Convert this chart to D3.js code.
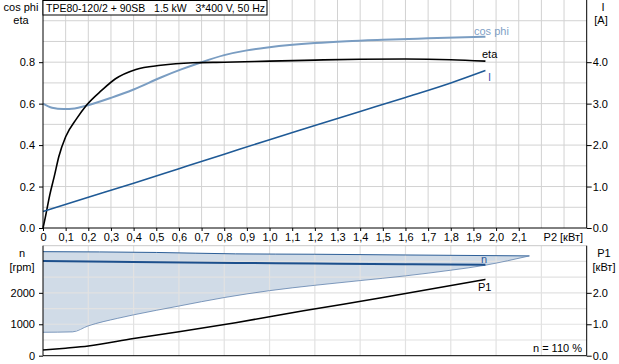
<!DOCTYPE html>
<html><head><meta charset="utf-8">
<script src="https://cdn.jsdelivr.net/npm/d3@7"></script>
<style>
html,body{margin:0;padding:0;background:#fff;}
text{font-family:"Liberation Sans",Arial,sans-serif;font-size:11px;white-space:pre;}
</style></head>
<body><svg id="c" width="619" height="364"></svg>
<script>
// ---- data ----
const title = "TPE80-120/2 + 90SB   1.5 kW   3*400 V, 50 Hz";
const xTicks = [0,0.1,0.2,0.3,0.4,0.5,0.6,0.7,0.8,0.9,1.0,1.1,1.2,1.3,1.4,1.5,1.6,1.7,1.8,1.9,2.0,2.1];
const effTicks = [0,0.2,0.4,0.6,0.8];
const iTicks = [0,1,2,3,4];
const nTicks = [0,1000,2000];
const p1Ticks = [0,1,2];

const etaP2 = [0,0.01,0.03,0.05,0.07,0.1,0.15,0.19,0.26,0.32,0.41,0.52,0.66,0.8,1.0,1.2,1.4,1.6,1.8,1.953];
const etaV  = [0,0.05,0.16,0.25,0.345,0.44,0.53,0.59,0.665,0.72,0.765,0.785,0.797,0.80,0.805,0.81,0.814,0.815,0.812,0.805];

const cosP2 = [0,0.04,0.09,0.14,0.19,0.3,0.4,0.52,0.61,0.70,0.8,0.9,1.0,1.2,1.34,1.5,1.7,1.953];
const cosV  = [0.60,0.58,0.574,0.577,0.59,0.628,0.668,0.726,0.765,0.80,0.834,0.857,0.872,0.892,0.901,0.908,0.915,0.923];

const iP2 = [0,0.2,0.4,0.6,0.8,1.0,1.2,1.4,1.6,1.8,1.953];
const iV  = [0.40,0.74,1.08,1.43,1.78,2.13,2.47,2.81,3.15,3.50,3.80];

const nP2 = [0,0.4,0.85,1.2,1.6,1.953];
const nV  = [3015,2980,2950,2935,2910,2890];

const nMaxP2 = [0,0.5,0.85,1.2,1.6,2.147];
const nMaxV  = [3310,3285,3240,3228,3205,3175];

const nMinP2 = [0,0.13,0.2,0.33,0.4,0.6,0.8,1.0,1.2,1.4,1.6,1.8,1.953,2.05,2.147];
const nMinV  = [745,758,950,1190,1300,1580,1850,2070,2240,2390,2540,2720,2880,3020,3175];

const p1P2 = [0,0.1,0.2,0.4,0.6,0.85,1.15,1.5,1.953];
const p1V  = [0.18,0.24,0.31,0.55,0.765,1.05,1.43,1.85,2.43];

// ---- layout ----
const svg = d3.select("#c");
const L = 43, R = 586.7;
const topT = 0, topB = 228;
const botT = 245.7, botB = 355.7;
const x = d3.scaleLinear().domain([0,2.4]).range([L,R]);
const yE = d3.scaleLinear().domain([0,1.1]).range([topB,topT]);
const yI = d3.scaleLinear().domain([0,5.5]).range([topB,topT]);
const yN = d3.scaleLinear().domain([0,3500]).range([botB,botT]);
const yP = d3.scaleLinear().domain([0,3.5]).range([botB,botT]);
const gridC = "#d2d2d2";
const zip = (a,b)=>a.map((v,i)=>[v,b[i]]);

// ---- top grid ----
const gTop = svg.append("g");
d3.range(1,24).forEach(i=>{
  gTop.append("line").attr("x1",x(i/10)).attr("x2",x(i/10)).attr("y1",topT).attr("y2",topB)
   .attr("stroke",gridC).attr("stroke-width",1);
});
d3.range(1,11).forEach(i=>{
  gTop.append("line").attr("x1",L).attr("x2",R).attr("y1",yE(i/10)).attr("y2",yE(i/10))
   .attr("stroke",gridC).attr("stroke-width",1);
});

// ---- bottom fill ----
const poly = zip(nMaxP2,nMaxV).concat(zip(nMinP2,nMinV).reverse());
svg.append("path").attr("d", d3.line().x(d=>x(d[0])).y(d=>yN(d[1]))(poly)+"Z")
  .attr("fill","#d0dbe7").attr("stroke","none");

// ---- bottom grid ----
const gBot = svg.append("g");
d3.range(1,12).forEach(i=>{
  gBot.append("line").attr("x1",x(i/5)).attr("x2",x(i/5)).attr("y1",botT).attr("y2",botB)
   .attr("stroke","#e2e2e2").attr("stroke-width",1.2);
});
d3.range(1,7).forEach(i=>{
  gBot.append("line").attr("x1",L).attr("x2",R).attr("y1",yN(i*500)).attr("y2",yN(i*500))
   .attr("stroke","#e2e2e2").attr("stroke-width",1.2);
});
svg.append("line").attr("x1",L).attr("x2",R).attr("y1",botT).attr("y2",botT).attr("stroke","#c8c8c8");

// fill outlines
const lnN = d3.line().x(d=>x(d[0])).y(d=>yN(d[1])).curve(d3.curveMonotoneX);
svg.append("path").attr("d",lnN(zip(nMaxP2,nMaxV))).attr("fill","none").attr("stroke","#2d5f98").attr("stroke-width",1);
svg.append("path").attr("d",lnN(zip(nMinP2,nMinV))).attr("fill","none").attr("stroke","#5f82ad").attr("stroke-width",0.8);
svg.append("path").attr("d",lnN(zip(nP2,nV))).attr("fill","none").attr("stroke","#1c4f8c").attr("stroke-width",2);

// P1
svg.append("path").attr("d",d3.line().x(d=>x(d[0])).y(d=>yP(d[1])).curve(d3.curveMonotoneX)(zip(p1P2,p1V)))
  .attr("fill","none").attr("stroke","#000").attr("stroke-width",1.5);

// ---- top curves ----
const lnE = d3.line().x(d=>x(d[0])).y(d=>yE(d[1])).curve(d3.curveMonotoneX);
svg.append("path").attr("d",lnE(zip(cosP2,cosV))).attr("fill","none").attr("stroke","#7a9dc2").attr("stroke-width",2);
svg.append("path").attr("d",lnE(zip(etaP2,etaV))).attr("fill","none").attr("stroke","#000").attr("stroke-width",1.6);
svg.append("path").attr("d",d3.line().x(d=>x(d[0])).y(d=>yI(d[1])).curve(d3.curveMonotoneX)(zip(iP2,iV)))
  .attr("fill","none").attr("stroke","#1f5a96").attr("stroke-width",1.6);

// ---- axes ----
function frame(t,b){
  svg.append("line").attr("x1",L).attr("x2",L).attr("y1",t).attr("y2",b).attr("stroke","#000");
  svg.append("line").attr("x1",R).attr("x2",R).attr("y1",t).attr("y2",b).attr("stroke","#000");
  svg.append("line").attr("x1",L).attr("x2",R).attr("y1",b).attr("y2",b).attr("stroke","#000");
}
frame(topT,topB); frame(botT,botB);

const fmt1 = d3.format(".1f");
const axL = svg.append("g").attr("transform",`translate(${L},0)`)
  .call(d3.axisLeft(yE).tickValues(effTicks).tickSize(4).tickPadding(4).tickFormat(fmt1));
const axR = svg.append("g").attr("transform",`translate(${R},0)`)
  .call(d3.axisRight(yI).tickValues(iTicks).tickSize(5).tickPadding(1).tickFormat(fmt1));
const axNL = svg.append("g").attr("transform",`translate(${L},0)`)
  .call(d3.axisLeft(yN).tickValues(nTicks).tickSize(4).tickPadding(4).tickFormat(d3.format("d")));
const axPR = svg.append("g").attr("transform",`translate(${R},0)`)
  .call(d3.axisRight(yP).tickValues(p1Ticks).tickSize(5).tickPadding(1).tickFormat(fmt1));
const axX = svg.append("g").attr("transform",`translate(0,${topB})`)
  .call(d3.axisBottom(x).tickValues(xTicks).tickSize(3).tickPadding(2)
    .tickFormat(d=> d===0 ? "0" : d3.format(".1f")(d).replace(".",",")));
[axL,axR,axNL,axPR,axX].forEach(a=>{
  a.select(".domain").remove();
  a.selectAll("text").attr("font-size",11).attr("font-family","Liberation Sans, Arial, sans-serif").style("fill","#000");
  a.selectAll(".tick line").attr("stroke","#000");
});

// ---- labels ----
const T = (s,xx,yy,anchor,col)=>svg.append("text").attr("x",xx).attr("y",yy).attr("text-anchor",anchor||"start")
  .style("fill",col||"#000").attr("xml:space","preserve").text(s);
T("cos phi",21,11,"middle"); T("eta",21,24,"middle");
T("I",603,11,"middle"); T("[A]",601,24,"middle");
T("n",22,257,"middle"); T("[rpm]",22,271,"middle");
T("P1",604,257,"middle"); T("[кВт]",604,271,"middle");
T("P2 [кВт]",583,241,"end");
T("n = 110 %",582,352,"end");
T("cos phi",474,35,"start","#7f9fc6");
T("eta",482,58,"start");
T("I",488,81,"start","#4a55b0");
T("n",481,263,"start","#2f5a9a");
T("P1",478,291,"start");

// title box
svg.append("rect").attr("x",L).attr("y",0.5).attr("width",224).attr("height",14.5).attr("fill","#fff").attr("stroke","#000");
T(title,46,11.5).attr("textLength",219).attr("lengthAdjust","spacingAndGlyphs");
</script></body></html>
